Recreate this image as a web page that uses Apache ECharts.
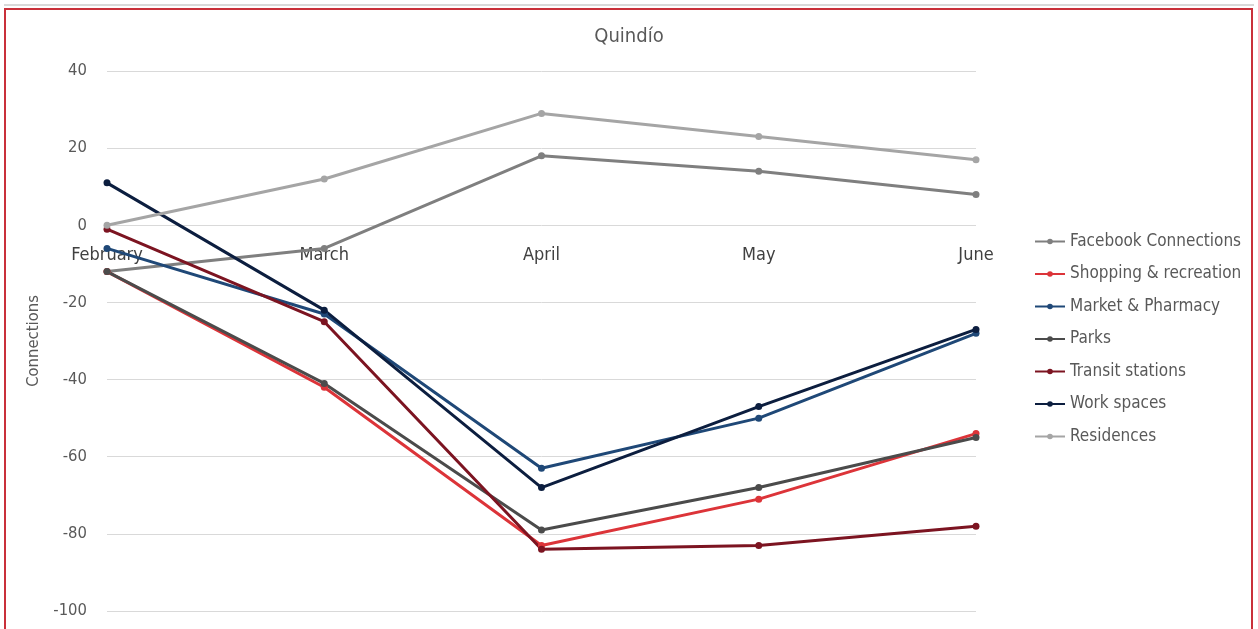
<!DOCTYPE html>
<html>
<head>
<meta charset="utf-8">
<title>Quindío</title>
<script src="https://cdn.jsdelivr.net/npm/echarts@6/dist/echarts.min.js"></script>
<style>
  html, body { margin: 0; padding: 0; background: #fff; }
  #chart { width: 1258px; height: 629px; }
  #topline { position: absolute; left: 4px; top: 4px; width: 1250px; height: 2px; background: #d9d9d9; }
  #frame { position: absolute; left: 4px; top: 8px; width: 1245px; height: 640px;
           border: 2px solid #c9303a; pointer-events: none; }
</style>
</head>
<body>
<div id="chart"></div>
<div id="topline"></div>
<div id="frame"></div>
<script>
const months = ['February', 'March', 'April', 'May', 'June'];
const yTicks = [-100, -80, -60, -40, -20, 0, 20, 40];

const facebookConnections = [-12, -6, 18, 14, 8];
const shoppingRecreation  = [-12, -42, -83, -71, -54];
const marketPharmacy      = [-6, -23, -63, -50, -28];
const parks               = [-12, -41, -79, -68, -55];
const transitStations     = [-1, -25, -84, -83, -78];
const workSpaces          = [11, -22, -68, -47, -27];
const residences          = [0, 12, 29, 23, 17];

const seriesDefs = [
  { name: 'Facebook Connections', data: facebookConnections, color: '#7f7f7f' },
  { name: 'Shopping & recreation', data: shoppingRecreation, color: '#dc3439' },
  { name: 'Market & Pharmacy', data: marketPharmacy, color: '#1f4877' },
  { name: 'Parks', data: parks, color: '#4b4b4b' },
  { name: 'Transit stations', data: transitStations, color: '#7c1421' },
  { name: 'Work spaces', data: workSpaces, color: '#0c1e3f' },
  { name: 'Residences', data: residences, color: '#a5a5a5' }
];

const font = '"DejaVu Sans Condensed", "Roboto", sans-serif';
const chart = echarts.init(document.getElementById('chart'));

chart.setOption({
  animation: false,
  textStyle: { fontFamily: font },
  title: {
    text: 'Quindío',
    left: 'center',
    top: 22,
    textStyle: { fontFamily: font, fontSize: 20, fontWeight: 'normal', color: '#595959' }
  },
  legend: {
    orient: 'vertical',
    left: 1029,
    top: 228,
    itemWidth: 30,
    itemHeight: 7,
    itemGap: 15.5,
    textStyle: { fontFamily: font, fontSize: 17, color: '#595959' },
    data: seriesDefs.map(s => s.name)
  },
  grid: { left: 107, right: 282, top: 71, bottom: 18, containLabel: false, outerBoundsMode: 'none' },
  xAxis: {
    type: 'category',
    data: months,
    boundaryGap: false,
    z: 0,
    axisLine: { show: false },
    axisTick: { show: false },
    // category labels sit just under the zero line
    axisLabel: { show: true, fontFamily: font, fontSize: 18, color: '#404040', margin: -365 }
  },
  yAxis: {
    type: 'value',
    min: yTicks[0],
    max: yTicks[yTicks.length - 1],
    interval: 20,
    name: 'Connections',
    nameLocation: 'middle',
    nameGap: 61,
    nameTextStyle: { fontFamily: font, fontSize: 16.5, color: '#595959' },
    axisLine: { show: false },
    axisTick: { show: false },
    axisLabel: { fontFamily: font, fontSize: 16.5, color: '#595959', margin: 20 },
    splitLine: { lineStyle: { color: '#d9d9d9', width: 1 } }
  },
  series: seriesDefs.map(s => ({
    name: s.name,
    type: 'line',
    z: 3,
    data: s.data,
    symbol: 'circle',
    symbolSize: 7,
    lineStyle: { width: 3, color: s.color },
    itemStyle: { color: s.color }
  }))
});
</script>
</body>
</html>
